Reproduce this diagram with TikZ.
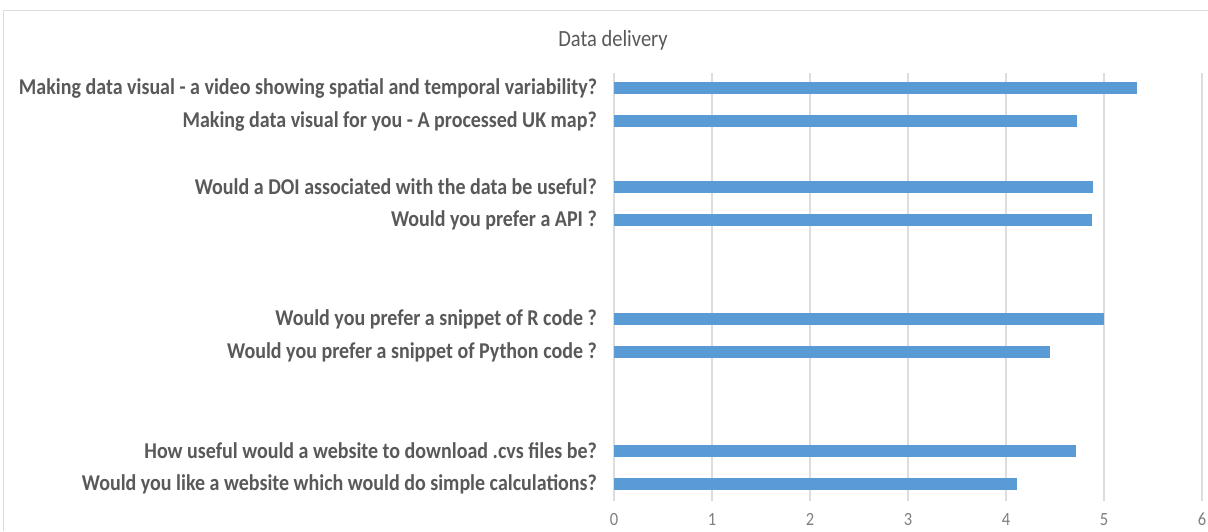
\documentclass[tikz,border=0pt]{standalone}
\usepackage{fontspec}
\usepackage{graphicx}
\setmainfont{Carlito}
\definecolor{barblue}{HTML}{5B9BD5}
\definecolor{gridgray}{HTML}{DDDDDD}
\definecolor{txtgray}{HTML}{595959}
\definecolor{ticktxt}{HTML}{7F7F7F}
\newcommand{\tallText}[1]{\scalebox{1}[1.13]{#1}}
\begin{document}
\begin{tikzpicture}[x=1pt,y=-1pt,
  gridline/.style={draw=gridgray,line width=1.2pt},
  frameline/.style={draw=gridgray,line width=1pt},
  bar/.style={fill=barblue},
  catlabel/.style={anchor=east,inner sep=0pt,text=txtgray,font=\fontsize{20}{22}\selectfont\bfseries},
  ticklabel/.style={anchor=center,inner sep=0pt,text=ticktxt,font=\fontsize{16.5}{18}\selectfont},
  titlelabel/.style={anchor=center,inner sep=0pt,text=txtgray,font=\fontsize{20.5}{22}\selectfont}]
\useasboundingbox (0,0) rectangle (1208,531);
\fill[white] (0,0) rectangle (1208,531);
% frame
\draw[frameline] (3.5,531) -- (3.5,10.5) -- (1208,10.5);
% title
\node[titlelabel] (title) at (613,40) {\tallText{Data delivery}};
% gridlines and tick labels
\foreach \v in {0,...,6}{
  \draw[gridline] ({614+98*\v},73) -- ({614+98*\v},501);
  \node[ticklabel] (tick\v) at ({614+98*\v},519.5) {\tallText{\v}};
}
% bars
\foreach \k/\val in {0/5.34,1/4.72,3/4.89,4/4.88,7/5.0,8/4.45,11/4.71,12/4.11}{
  \fill[bar] (614,{88+33*\k-6}) rectangle ({614+98*\val},{88+33*\k+6});
}
% labels
\node[catlabel] (l0) at (597,88) {\tallText{Making data visual - a video showing spatial and temporal variability?}};
\node[catlabel] (l1) at (597,121) {\tallText{Making data visual for you - A processed UK map?}};
\node[catlabel] (l3) at (597,187) {\tallText{Would a DOI associated with the data be useful?}};
\node[catlabel] (l4) at (597,220) {\tallText{Would you prefer a API ?}};
\node[catlabel] (l7) at (597,319) {\tallText{Would you prefer a snippet of R code ?}};
\node[catlabel] (l8) at (597,352) {\tallText{Would you prefer a snippet of Python code ?}};
\node[catlabel] (l11) at (597,451) {\tallText{How useful would a website to download .cvs files be?}};
\node[catlabel] (l12) at (597,484) {\tallText{Would you like a website which would do simple calculations?}};
\end{tikzpicture}
\end{document}
